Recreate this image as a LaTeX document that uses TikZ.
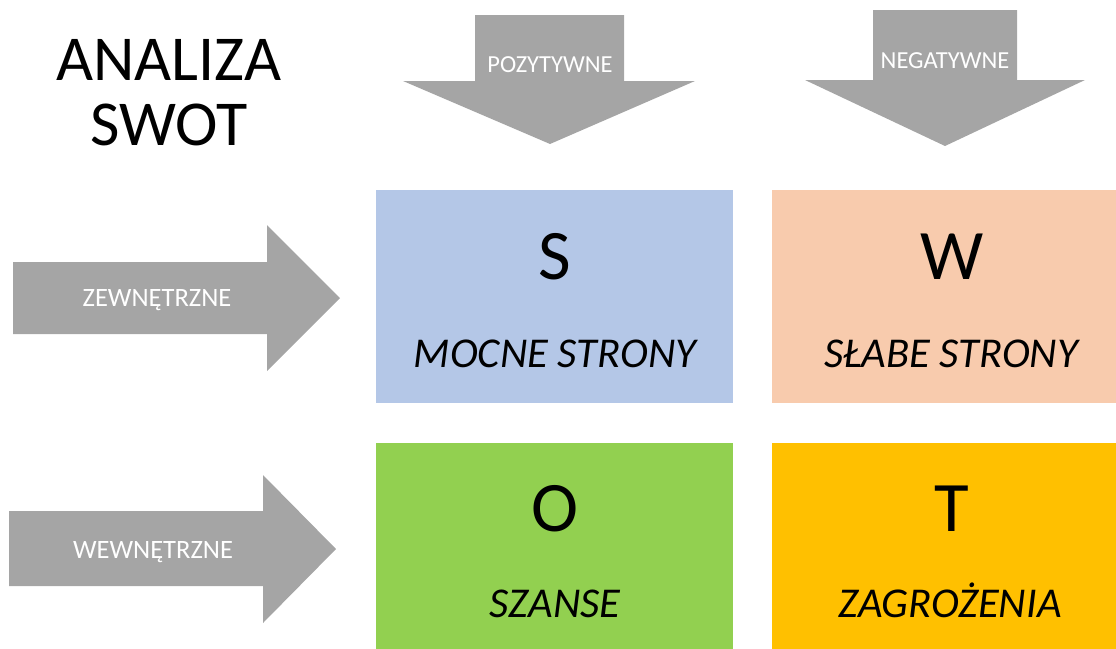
\documentclass[tikz,border=0pt]{standalone}
\usepackage{fontspec}
\setmainfont{Carlito}
\definecolor{arrowgray}{HTML}{A5A5A5}
\definecolor{sblue}{HTML}{B4C7E7}
\definecolor{wpeach}{HTML}{F8CBAD}
\definecolor{ogreen}{HTML}{92D050}
\definecolor{tyellow}{HTML}{FFC000}
\tikzset{
  grayarrow/.style={fill=arrowgray},
  arrowlabel/.style={anchor=base,inner sep=0pt,text=white,font=\fontsize{24.5}{28}\selectfont},
  sidelabel/.style={anchor=base,inner sep=0pt,text=white,font=\fontsize{26.5}{30}\selectfont},
  bigletter/.style={anchor=base,inner sep=0pt,font=\fontsize{71}{80}\selectfont},
  boxlabel/.style={anchor=base,inner sep=0pt,font=\fontsize{42.5}{48}\selectfont\itshape},
  titletext/.style={anchor=base,inner sep=0pt,font=\fontsize{64}{76}\selectfont}
}
\begin{document}
\begin{tikzpicture}[x=1pt,y=-1pt]
\useasboundingbox (0,0) rectangle (1116,648);
\clip (0,0) rectangle (1116,648);
% arrows
\fill[grayarrow] (475,15) -- (624,15) -- (624,81) -- (695,81) -- (550,144) -- (403,81) -- (475,81) -- cycle;
\fill[grayarrow] (873,10) -- (1017,10) -- (1017,80) -- (1085,80) -- (945,146) -- (805,80) -- (873,80) -- cycle;
\fill[grayarrow] (13,262) -- (267,262) -- (267,225) -- (340,298) -- (267,371) -- (267,334) -- (13,334) -- cycle;
\fill[grayarrow] (9,511) -- (263,511) -- (263,475) -- (336,549) -- (263,623) -- (263,586) -- (9,586) -- cycle;
% boxes
\fill[sblue] (376,190) rectangle (733,403);
\fill[wpeach] (772,190) rectangle (1130,403);
\fill[ogreen] (376,443) rectangle (733,660);
\fill[tyellow] (772,443) rectangle (1130,660);
% title
\node[titletext] (t1) at (169,80) {ANALIZA};
\node[titletext] (t2) at (169,145) {SWOT};
% arrow labels
\node[arrowlabel] (poz) at (550,72) {POZYTYWNE};
\node[arrowlabel] (neg) at (945,68) {NEGATYWNE};
\node[sidelabel] (zew) at (157,306) {ZEWNĘTRZNE};
\node[sidelabel] (wew) at (153,558) {WEWNĘTRZNE};
% letters
\node[bigletter] (S) at (555,279) {S};
\node[bigletter] (W) at (952,279) {W};
\node[bigletter] (O) at (555,531) {O};
\node[bigletter] (T) at (952,531) {T};
% box labels
\node[boxlabel] (ms) at (555,367) {MOCNE STRONY};
\node[boxlabel] (ss) at (951,367) {SŁABE STRONY};
\node[boxlabel] (sz) at (555,617) {SZANSE};
\node[boxlabel] (za) at (950,617) {ZAGROŻENIA};
\end{tikzpicture}
\end{document}
